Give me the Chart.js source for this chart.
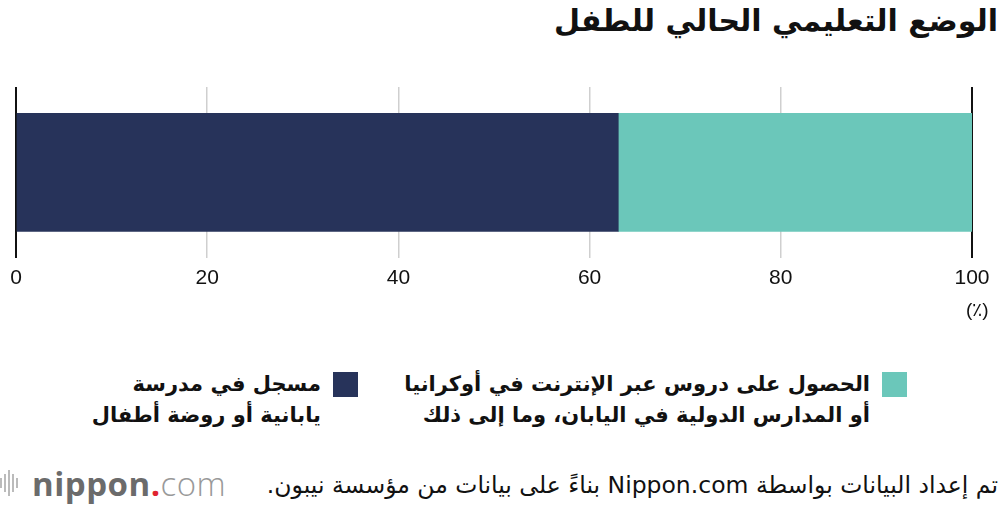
<!DOCTYPE html>
<html lang="ar">
<head>
<meta charset="utf-8">
<title>الوضع التعليمي الحالي للطفل</title>
<script src="https://cdn.jsdelivr.net/npm/chart.js@4.4.1/dist/chart.umd.min.js"></script>
<style>
  html, body { margin: 0; padding: 0; background: #fff; }
  body { width: 1000px; height: 506px; position: relative; overflow: hidden; font-family: "DejaVu Sans", sans-serif; color: #111; }
  #title { position: absolute; right: 2px; top: 3px; margin: 0; font-size: 30px; font-weight: bold; direction: rtl; white-space: nowrap; }
  #chartBox { position: absolute; left: 0; top: 0; width: 1000px; height: 309px; }
  #unit { position: absolute; left: 966px; top: 298px; font-size: 19px; font-family: "Liberation Sans", sans-serif; }
  .legend-item { position: absolute; top: 369px; direction: rtl; display: flex; align-items: flex-start; }
  .legend-item .swatch { width: 25px; height: 25px; margin-left: 12px; margin-top: 3px; flex: none; }
  .legend-item .text { font-size: 21px; font-weight: bold; line-height: 31px; white-space: nowrap; }
  #footer { position: absolute; right: 2px; top: 471px; font-size: 23.5px; direction: rtl; white-space: nowrap; }
  #logo { position: absolute; left: 0; top: 466px; height: 34px; display: flex; align-items: center; }
  #logo .bars { display: flex; align-items: center; margin-right: 12px; }
  #logo .bars span { display: block; width: 2px; background: #bbb; margin-right: 2px; }
  #logo .word { font-family: "Open Sans", sans-serif; font-size: 33px; color: #6b6b6b; letter-spacing: 0.5px; }
  #logo .word b { font-weight: bold; }
  #logo .word .dot { color: #e0242f; font-weight: bold; }
  #logo .word .com { font-weight: 300; color: #999; }
</style>
</head>
<body>
<h1 id="title">الوضع التعليمي الحالي للطفل</h1>
<div id="chartBox"><canvas id="eduChart"></canvas></div>
<div id="unit">(٪)</div>
<div id="legend"></div>
<div id="logo">
  <div class="bars"><span style="height:10px"></span><span style="height:18px"></span><span style="height:26px"></span><span style="height:18px"></span><span style="height:10px"></span></div>
  <div class="word"><b>nippon</b><span class="dot">.</span><span class="com">com</span></div>
</div>
<div id="footer">تم إعداد البيانات بواسطة Nippon.com بناءً على بيانات من مؤسسة نيبون.</div>

<script>
// Data
const categories = ['الطفل'];
const seriesNames = [
  ['مسجل في مدرسة', 'يابانية أو روضة أطفال'],
  ['الحصول على دروس عبر الإنترنت في أوكرانيا', 'أو المدارس الدولية في اليابان، وما إلى ذلك']
];
const enrolledValues = [63];
const otherValues = [37];
const seriesColors = ['#27335a', '#6bc7ba'];
const tickValues = [0, 20, 40, 60, 80, 100];

// Legend (right-to-left, teal item first)
const legendBox = document.getElementById('legend');
const legendRight = [1000 - 907, 1000 - 358];
[1, 0].forEach((i, n) => {
  const item = document.createElement('div');
  item.className = 'legend-item';
  item.style.right = legendRight[n] + 'px';
  const sw = document.createElement('div');
  sw.className = 'swatch';
  sw.style.background = seriesColors[i];
  const txt = document.createElement('div');
  txt.className = 'text';
  txt.innerHTML = seriesNames[i].join('<br>');
  item.appendChild(sw);
  item.appendChild(txt);
  legendBox.appendChild(item);
});

const ctx = document.getElementById('eduChart').getContext('2d');
new Chart(ctx, {
  type: 'bar',
  data: {
    labels: categories,
    datasets: [{
      label: seriesNames[0].join(' '),
      data: enrolledValues,
      backgroundColor: seriesColors[0],
      barThickness: 118
    }, {
      label: seriesNames[1].join(' '),
      data: otherValues,
      backgroundColor: seriesColors[1],
      barThickness: 118
    }]
  },
  options: {
    indexAxis: 'y',
    responsive: true,
    maintainAspectRatio: false,
    animation: false,
    layout: { padding: { left: 16, right: 28, top: 87, bottom: 10 } },
    plugins: {
      legend: { display: false },
      title: { display: false },
      tooltip: { enabled: false }
    },
    scales: {
      x: {
        stacked: true,
        min: 0,
        max: 100,
        afterBuildTicks: axis => { axis.ticks = tickValues.map(v => ({ value: v })); },
        border: { display: false },
        grid: {
          drawTicks: false,
          color: c => (c.tick && (c.tick.value === 0 || c.tick.value === 100)) ? '#111' : '#cfcfcf',
          lineWidth: c => (c.tick && (c.tick.value === 0 || c.tick.value === 100)) ? 2 : 1.5
        },
        ticks: {
          padding: 8,
          color: '#111',
          font: { family: 'Liberation Sans', size: 21 }
        }
      },
      y: {
        stacked: true,
        display: false
      }
    }
  }
});
</script>
</body>
</html>
